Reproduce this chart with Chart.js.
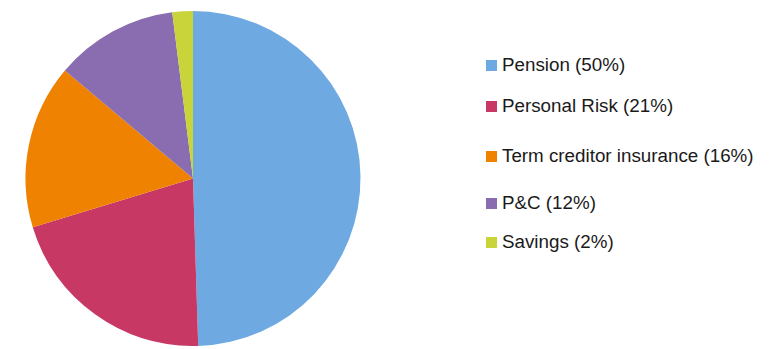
<!DOCTYPE html>
<html>
<head>
<meta charset="utf-8">
<script src="https://cdn.jsdelivr.net/npm/chart.js@4.4.0/dist/chart.umd.min.js"></script>
<style>
  html, body { margin:0; padding:0; background:#fff; }
  #wrap { position:relative; width:769px; height:349px; overflow:hidden; }
  #pie-box { position:absolute; left:0; top:0; width:386px; height:349px; }
  #legend { position:absolute; left:0; top:0; }
  .lg-item { position:absolute; left:486px; display:flex; align-items:center;
    font-family:'Liberation Sans', Arial, sans-serif; font-size:18.8px; color:#1a1a1a; white-space:nowrap; }
  .lg-box { width:11px; height:11px; margin-right:5px; }
</style>
</head>
<body>
<div id="wrap">
  <div id="pie-box"><canvas id="c-pie"></canvas></div>
  <div id="legend"></div>
</div>
<script>
// business mix by line
const labels  = ['Pension', 'Personal Risk', 'Term creditor insurance', 'P&C', 'Savings'];
const shares  = [50, 21, 16, 12, 2];
const colours = ['#6fa9e2', '#c83865', '#ef8200', '#8a6cb0', '#c9d43a'];
// legend rows sit at uneven heights
const legendY = [65, 106, 156, 203, 242];

new Chart(document.getElementById('c-pie'), {
  type: 'pie',
  data: {
    labels,
    datasets: [{ data: shares, backgroundColor: colours, borderWidth: 0 }]
  },
  options: {
    responsive: true, maintainAspectRatio: false, animation: false,
    layout: { padding: { top: 11, bottom: 3, left: 0, right: 0 } },
    plugins: { legend: { display: false }, tooltip: { enabled: false } }
  }
});

document.getElementById('legend').innerHTML = labels.map((l, i) => `
  <div class="lg-item" style="top:${legendY[i] - 12}px;height:24px">
    <div class="lg-box" style="background:${colours[i]}"></div>
    <span>${l.replace('&', '&amp;')} (${shares[i]}%)</span>
  </div>`).join('');
</script>
</body>
</html>
